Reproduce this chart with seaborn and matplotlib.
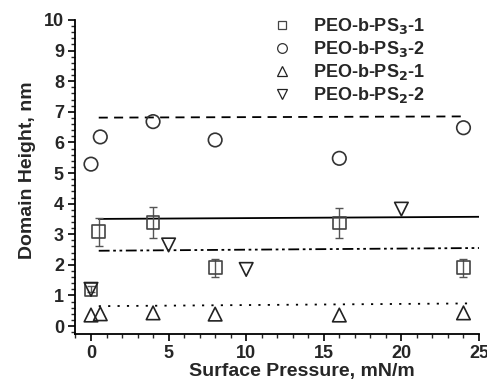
import numpy as np
import pandas as pd
import matplotlib
matplotlib.use("Agg")
import matplotlib.pyplot as plt
import seaborn as sns
from matplotlib.ticker import MultipleLocator
from matplotlib.lines import Line2D

sns.set_style("ticks")
plt.rcParams['font.family'] = ['Liberation Sans', 'DejaVu Sans']
plt.rcParams['font.weight'] = 'bold'
plt.rcParams['mathtext.default'] = 'bf'

# ---- data ----
labels = ["PEO-b-PS$_3$-1", "PEO-b-PS$_3$-2", "PEO-b-PS$_2$-1", "PEO-b-PS$_2$-2"]

sq_x = [0.0, 0.5, 4, 8, 16, 24]
sq_y = [1.2, 3.08, 3.38, 1.9, 3.37, 1.9]
sq_err = [0.1, 0.45, 0.5, 0.3, 0.5, 0.3]

ci_x = [0.0, 0.6, 4, 8, 16, 24]
ci_y = [5.29, 6.18, 6.68, 6.08, 5.48, 6.48]

up_x = [0.0, 0.6, 4, 8, 16, 24]
up_y = [0.36, 0.40, 0.43, 0.39, 0.36, 0.43]

dn_x = [0.0, 5, 10, 20]
dn_y = [1.2, 2.65, 1.85, 3.82]

# linear fits (start / end)
fit_sq_x = [0.5, 25.2]
fit_sq_y = [3.5, 3.57]
fit_ci_x = [0.5, 24.2]
fit_ci_y = [6.81, 6.85]
fit_up_x = [0.5, 24.6]
fit_up_y = [0.65, 0.74]
fit_dn_x = [0.5, 25.0]
fit_dn_y = [2.46, 2.55]

xticks = [0, 5, 10, 15, 20, 25]
yticks = list(range(0, 11))

fig = plt.figure(figsize=(4.87, 3.83), dpi=100)
ax = fig.add_axes([75/487, 1-334/383, (479-75)/487, (334-20)/383])

# fit lines
sns.lineplot(x=fit_sq_x, y=fit_sq_y, ax=ax, color="black", lw=1.3, linestyle="-")
sns.lineplot(x=fit_ci_x, y=fit_ci_y, ax=ax, color="black", lw=1.3, linestyle=(0, (5, 3.5)))
sns.lineplot(x=fit_up_x, y=fit_up_y, ax=ax, color="black", lw=1.3, linestyle=(0, (1.2, 4)))
sns.lineplot(x=fit_dn_x, y=fit_dn_y, ax=ax, color="black", lw=1.3, linestyle=(0, (6, 2, 1.5, 2, 1.5, 2)))

# error bars for squares
ax.errorbar(sq_x, sq_y, yerr=sq_err, fmt="none", ecolor="#555555", elinewidth=1, capsize=3, capthick=1, zorder=2)

ms = 95
common = dict(ax=ax, facecolor="none", linewidth=1.2, zorder=3)
sns.scatterplot(x=sq_x, y=sq_y, marker="s", s=85, edgecolor="#444444", **common)
sns.scatterplot(x=ci_x, y=ci_y, marker="o", s=ms, edgecolor="#333333", **common)
sns.scatterplot(x=up_x, y=up_y, marker="^", s=ms, edgecolor="#222222", **common)
sns.scatterplot(x=dn_x, y=dn_y, marker="v", s=ms, edgecolor="#222222", **common)

# legend handles
handles = [
    Line2D([], [], ls="none", marker="s", ms=6, mfc="none", mec="#444444", mew=0.9),
    Line2D([], [], ls="none", marker="o", ms=7, mfc="none", mec="#333333", mew=0.9),
    Line2D([], [], ls="none", marker="^", ms=7, mfc="none", mec="#222222", mew=0.9),
    Line2D([], [], ls="none", marker="v", ms=7, mfc="none", mec="#222222", mew=0.9),
]
ax.legend(handles, labels, loc="upper left", bbox_to_anchor=(0.463, 1.035), frameon=False,
          prop={"weight": "bold", "size": 13}, handletextpad=1.0, labelspacing=0.17,
          borderaxespad=0, handlelength=1.4)

ax.set_xlim(-1.03, 25.0)
ax.set_ylim(-0.26, 10.0)
ax.set_xticks(xticks)
ax.set_yticks(yticks)
ax.xaxis.set_minor_locator(MultipleLocator(1))
ax.yaxis.set_minor_locator(MultipleLocator(0.2))
ax.tick_params(axis="both", which="major", direction="out", length=5, width=1.2,
               labelsize=13, color="black", pad=3)
ax.tick_params(axis="both", which="minor", direction="out", length=3, width=1)
for lab in ax.get_xticklabels() + ax.get_yticklabels():
    lab.set_fontweight("bold")

ax.set_xlabel("Surface Pressure, mN/m", fontsize=14, fontweight="bold")
ax.set_ylabel("Domain Height, nm", fontsize=14, fontweight="bold")
ax.xaxis.set_label_coords(0.562, -0.092)
ax.yaxis.set_label_coords(-0.097, 0.522)

sns.despine(ax=ax)
for sp in ["left", "bottom"]:
    ax.spines[sp].set_linewidth(1.3)
    ax.spines[sp].set_color("black")

fig.savefig("out.png", dpi=100)
